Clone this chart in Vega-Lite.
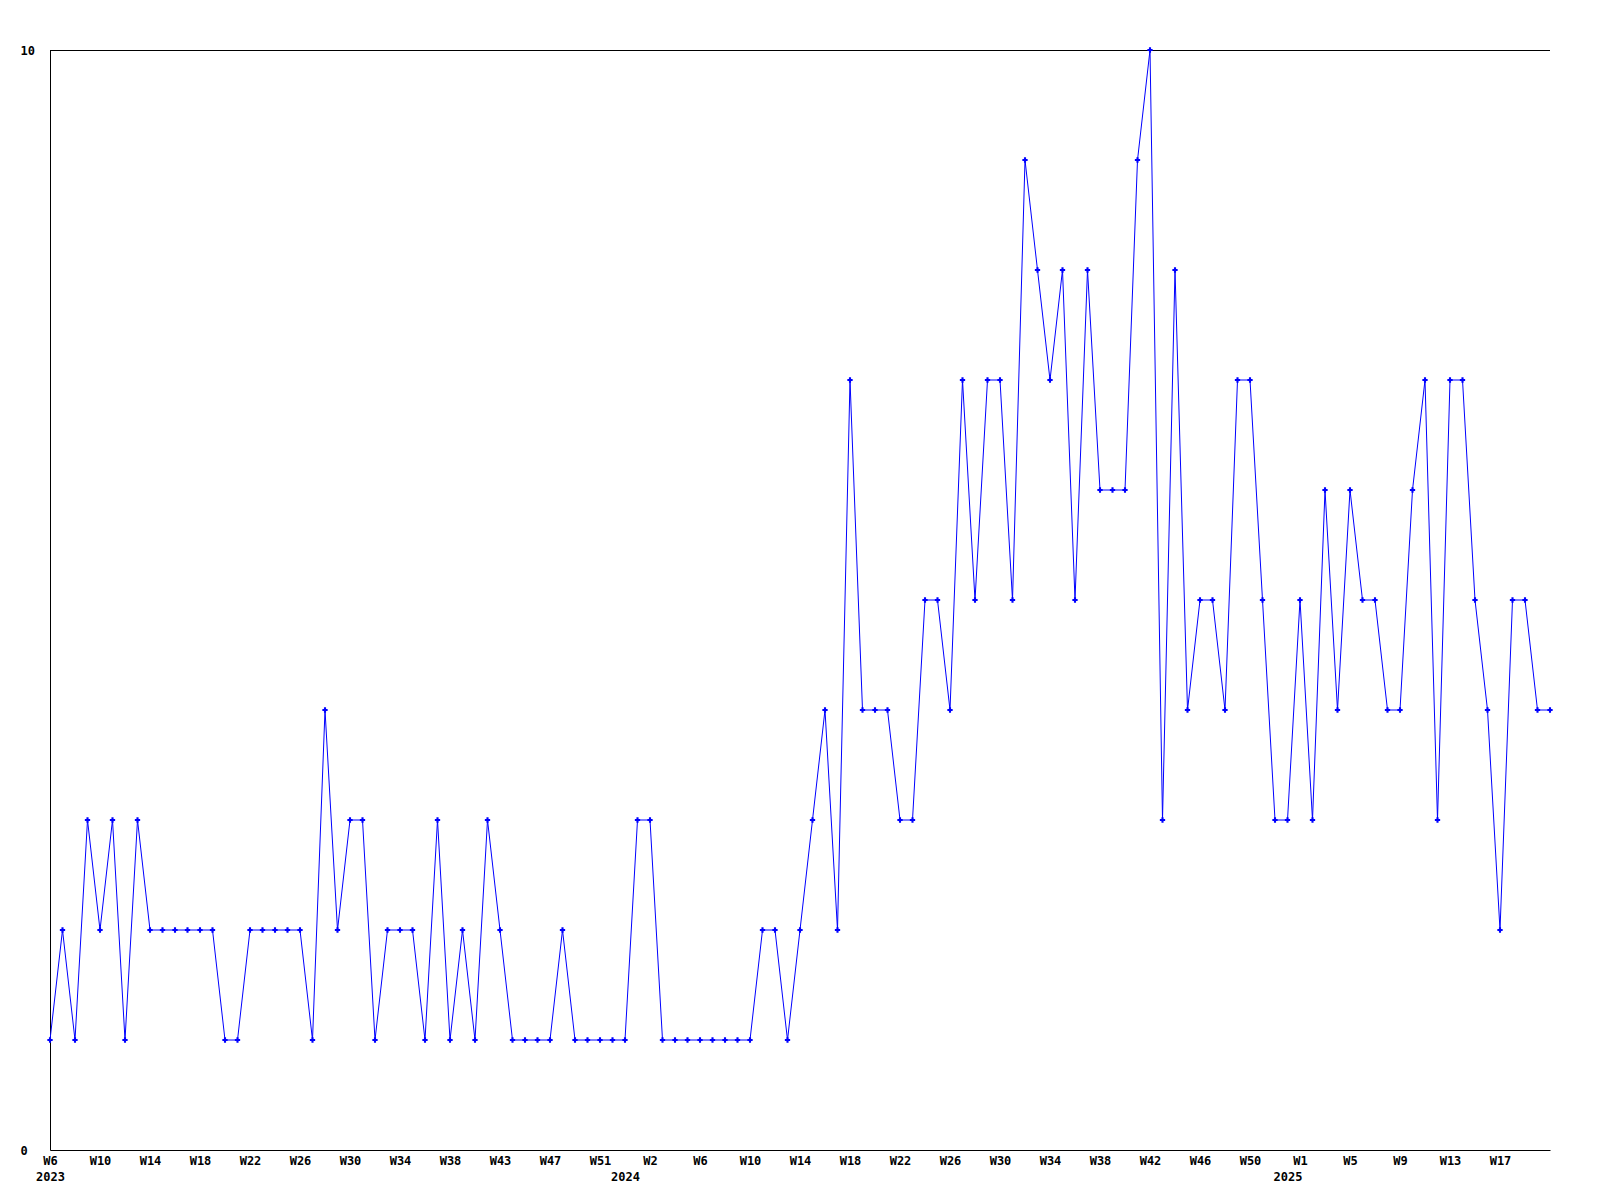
{
  "$schema": "https://vega.github.io/schema/vega-lite/v6.json",
  "width": 1500,
  "height": 1100,
  "autosize": {"type": "none"},
  "padding": {"left": 50, "top": 50, "right": 50, "bottom": 50},
  "background": "white",
  "config": {
    "view": {"stroke": null},
    "axis": {
      "labelFont": "DejaVu Sans Mono",
      "labelFontWeight": "bold",
      "labelFontSize": 12,
      "labelColor": "black",
      "domainColor": "black",
      "domainWidth": 1,
      "ticks": false,
      "tickSize": 0,
      "grid": false,
      "title": null
    }
  },
  "data": {
    "values": [
      {"week": "2023-W06", "value": 1}, {"week": "2023-W07", "value": 2}, {"week": "2023-W08", "value": 1}, {"week": "2023-W09", "value": 3},
      {"week": "2023-W10", "value": 2}, {"week": "2023-W11", "value": 3}, {"week": "2023-W12", "value": 1}, {"week": "2023-W13", "value": 3},
      {"week": "2023-W14", "value": 2}, {"week": "2023-W15", "value": 2}, {"week": "2023-W16", "value": 2}, {"week": "2023-W17", "value": 2},
      {"week": "2023-W18", "value": 2}, {"week": "2023-W19", "value": 2}, {"week": "2023-W20", "value": 1}, {"week": "2023-W21", "value": 1},
      {"week": "2023-W22", "value": 2}, {"week": "2023-W23", "value": 2}, {"week": "2023-W24", "value": 2}, {"week": "2023-W25", "value": 2},
      {"week": "2023-W26", "value": 2}, {"week": "2023-W27", "value": 1}, {"week": "2023-W28", "value": 4}, {"week": "2023-W29", "value": 2},
      {"week": "2023-W30", "value": 3}, {"week": "2023-W31", "value": 3}, {"week": "2023-W32", "value": 1}, {"week": "2023-W33", "value": 2},
      {"week": "2023-W34", "value": 2}, {"week": "2023-W35", "value": 2}, {"week": "2023-W36", "value": 1}, {"week": "2023-W37", "value": 3},
      {"week": "2023-W38", "value": 1}, {"week": "2023-W40", "value": 2}, {"week": "2023-W41", "value": 1}, {"week": "2023-W42", "value": 3},
      {"week": "2023-W43", "value": 2}, {"week": "2023-W44", "value": 1}, {"week": "2023-W45", "value": 1}, {"week": "2023-W46", "value": 1},
      {"week": "2023-W47", "value": 1}, {"week": "2023-W48", "value": 2}, {"week": "2023-W49", "value": 1}, {"week": "2023-W50", "value": 1},
      {"week": "2023-W51", "value": 1}, {"week": "2023-W52", "value": 1}, {"week": "2024-W00", "value": 1}, {"week": "2024-W01", "value": 3},
      {"week": "2024-W02", "value": 3}, {"week": "2024-W03", "value": 1}, {"week": "2024-W04", "value": 1}, {"week": "2024-W05", "value": 1},
      {"week": "2024-W06", "value": 1}, {"week": "2024-W07", "value": 1}, {"week": "2024-W08", "value": 1}, {"week": "2024-W09", "value": 1},
      {"week": "2024-W10", "value": 1}, {"week": "2024-W11", "value": 2}, {"week": "2024-W12", "value": 2}, {"week": "2024-W13", "value": 1},
      {"week": "2024-W14", "value": 2}, {"week": "2024-W15", "value": 3}, {"week": "2024-W16", "value": 4}, {"week": "2024-W17", "value": 2},
      {"week": "2024-W18", "value": 7}, {"week": "2024-W19", "value": 4}, {"week": "2024-W20", "value": 4}, {"week": "2024-W21", "value": 4},
      {"week": "2024-W22", "value": 3}, {"week": "2024-W23", "value": 3}, {"week": "2024-W24", "value": 5}, {"week": "2024-W25", "value": 5},
      {"week": "2024-W26", "value": 4}, {"week": "2024-W27", "value": 7}, {"week": "2024-W28", "value": 5}, {"week": "2024-W29", "value": 7},
      {"week": "2024-W30", "value": 7}, {"week": "2024-W31", "value": 5}, {"week": "2024-W32", "value": 9}, {"week": "2024-W33", "value": 8},
      {"week": "2024-W34", "value": 7}, {"week": "2024-W35", "value": 8}, {"week": "2024-W36", "value": 5}, {"week": "2024-W37", "value": 8},
      {"week": "2024-W38", "value": 6}, {"week": "2024-W39", "value": 6}, {"week": "2024-W40", "value": 6}, {"week": "2024-W41", "value": 9},
      {"week": "2024-W42", "value": 10}, {"week": "2024-W43", "value": 3}, {"week": "2024-W44", "value": 8}, {"week": "2024-W45", "value": 4},
      {"week": "2024-W46", "value": 5}, {"week": "2024-W47", "value": 5}, {"week": "2024-W48", "value": 4}, {"week": "2024-W49", "value": 7},
      {"week": "2024-W50", "value": 7}, {"week": "2024-W51", "value": 5}, {"week": "2024-W52", "value": 3}, {"week": "2025-W00", "value": 3},
      {"week": "2025-W01", "value": 5}, {"week": "2025-W02", "value": 3}, {"week": "2025-W03", "value": 6}, {"week": "2025-W04", "value": 4},
      {"week": "2025-W05", "value": 6}, {"week": "2025-W06", "value": 5}, {"week": "2025-W07", "value": 5}, {"week": "2025-W08", "value": 4},
      {"week": "2025-W09", "value": 4}, {"week": "2025-W10", "value": 6}, {"week": "2025-W11", "value": 7}, {"week": "2025-W12", "value": 3},
      {"week": "2025-W13", "value": 7}, {"week": "2025-W14", "value": 7}, {"week": "2025-W15", "value": 5}, {"week": "2025-W16", "value": 4},
      {"week": "2025-W17", "value": 2}, {"week": "2025-W18", "value": 5}, {"week": "2025-W19", "value": 5}, {"week": "2025-W20", "value": 4},
      {"week": "2025-W21", "value": 4}
    ]
  },
  "layer": [
    {
      "mark": {"type": "rule", "color": "black", "strokeWidth": 1, "yOffset": 0.5},
      "encoding": {"y": {"datum": 10, "type": "quantitative"}}
    },
    {
      "mark": {
        "type": "line",
        "color": "#0000ff",
        "strokeWidth": 1,
        "point": {"shape": "cross", "size": 28, "filled": true, "color": "#0000ff"}
      },
      "encoding": {
        "x": {
          "field": "week",
          "type": "ordinal",
          "sort": null,
          "scale": {"type": "point", "padding": 0},
          "axis": {
            "values": ["2023-W06", "2023-W10", "2023-W14", "2023-W18", "2023-W22", "2023-W26", "2023-W30", "2023-W34", "2023-W38", "2023-W43", "2023-W47", "2023-W51", "2024-W00", "2024-W02", "2024-W06", "2024-W10", "2024-W14", "2024-W18", "2024-W22", "2024-W26", "2024-W30", "2024-W34", "2024-W38", "2024-W42", "2024-W46", "2024-W50", "2025-W00", "2025-W01", "2025-W05", "2025-W09", "2025-W13", "2025-W17"],
            "labelExpr": "datum.value == '2023-W06' ? ['W6', '2023'] : (substring(datum.value, 6) == '00' ? ['', substring(datum.value, 0, 4)] : 'W' + toNumber(substring(datum.value, 6)))",
            "labelAlign": "center",
            "labelBaseline": "top",
            "labelPadding": 5,
            "labelLineHeight": 16,
            "labelFlush": false,
            "labelOverlap": false,
            "labelAngle": 0
          }
        },
        "y": {
          "field": "value",
          "type": "quantitative",
          "scale": {"domain": [0, 10], "nice": false, "zero": true},
          "axis": {
            "values": [0, 10],
            "format": "d",
            "labelAlign": "left",
            "labelBaseline": "middle",
            "labelPadding": 30,
            "labelFlush": false,
            "labelOverlap": false
          }
        }
      }
    }
  ]
}
